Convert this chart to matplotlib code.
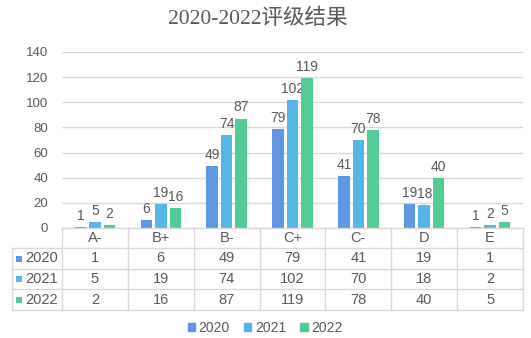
import matplotlib
matplotlib.use("Agg")
import matplotlib.pyplot as plt
import matplotlib.transforms as mtransforms
from matplotlib.patches import Patch, Rectangle
import numpy as np

categories = ["A-", "B+", "B-", "C+", "C-", "D", "E"]
years = ["2020", "2021", "2022"]
v2020 = [1, 6, 49, 79, 41, 19, 1]
v2021 = [5, 19, 74, 102, 70, 18, 2]
v2022 = [2, 16, 87, 119, 78, 40, 5]
yticks = [0, 20, 40, 60, 80, 100, 120, 140]
title = "2020-2022评级结果"

colors = ["#6097E3", "#56B7E6", "#52CC94"]
text_color = "#595959"
grid_color = "#D9D9D9"
sans = ["Liberation Sans", "Noto Sans CJK SC"]

W, H = 531, 338
fig = plt.figure(figsize=(W / 100, H / 100), dpi=100)


def fy(py):
    """Figure fraction from a pixel row measured from the top."""
    return 1 - py / H


ax = fig.add_axes([62 / W, fy(228), (523 - 62) / W, (228 - 52) / H])
x = np.arange(len(categories))
series = [v2020, v2021, v2022]
step, width = 0.22, 0.175
for i, (vals, c) in enumerate(zip(series, colors)):
    pos = x + (i - 1) * step
    bars = ax.bar(pos, vals, width=width, color=c, zorder=3)
    for b, v in zip(bars, vals):
        ax.annotate(str(v), (b.get_x() + b.get_width() / 2, v),
                    xytext=(0, 3), textcoords="offset points",
                    ha="center", va="bottom", fontsize=10,
                    color=text_color, family=sans)

ax.set_xlim(-0.5, len(categories) - 0.5)
ax.set_ylim(0, 140)
ax.set_yticks(yticks)
ax.set_yticklabels([str(t) for t in yticks], family=sans, fontsize=9.5, color=text_color)
ax.tick_params(axis="y", length=0, pad=10)
ax.set_xticks([])
ax.grid(axis="y", color=grid_color, linewidth=1, zorder=0)
for s in ax.spines.values():
    s.set_visible(False)

fig.suptitle(title, x=258 / W, y=fy(19), va="center", fontsize=15.5,
             color=text_color, family=["Liberation Serif", "Noto Sans CJK SC"])

# data table under the plot
tr = mtransforms.blended_transform_factory(ax.transData, fig.transFigure)
row_edges = [228, 248, 269, 289, 310]
x_left, x_right = -0.5, len(categories) - 0.5
lw = 1.0
# horizontal rules
fig.add_artist(plt.Line2D([x_left, x_right], [fy(228), fy(228)], transform=tr,
                          color=grid_color, lw=lw))
for py in row_edges[1:]:
    fig.add_artist(plt.Line2D([12 / W, 523 / W], [fy(py), fy(py)],
                              transform=fig.transFigure, color=grid_color, lw=lw))
# vertical rules
for k in range(len(categories) + 1):
    fig.add_artist(plt.Line2D([x_left + k, x_left + k], [fy(228), fy(310)],
                              transform=tr, color=grid_color, lw=lw))
fig.add_artist(plt.Line2D([12 / W, 12 / W], [fy(248), fy(310)],
                          transform=fig.transFigure, color=grid_color, lw=lw))

# header row
for xi, cat in zip(x, categories):
    fig.text(xi, fy((228 + 248) / 2), cat, transform=tr, ha="center", va="center",
             fontsize=10.5, color=text_color, family=sans)
# value rows
for r, (yr, vals, c) in enumerate(zip(years, series, colors)):
    top, bot = row_edges[r + 1], row_edges[r + 2]
    yc = fy((top + bot) / 2)
    fig.add_artist(Rectangle((16 / W, yc - 3 / H), 6 / W, 6 / H,
                             transform=fig.transFigure, color=c, lw=0))
    fig.text(25 / W, yc, yr, ha="left", va="center", fontsize=10.5,
             color=text_color, family=sans)
    for xi, v in zip(x, vals):
        fig.text(xi, yc, str(v), transform=tr, ha="center", va="center",
                 fontsize=10.5, color=text_color, family=sans)

handles = [Patch(color=c, label=y) for c, y in zip(colors, years)]
fig.legend(handles=handles, loc="center", bbox_to_anchor=(265 / W, fy(328)),
           ncol=3, frameon=False, handlelength=0.55, handleheight=0.55,
           handletextpad=0.25, columnspacing=1.0,
           prop={"family": sans, "size": 10}, labelcolor=text_color)

fig.savefig("out.png", dpi=100)
